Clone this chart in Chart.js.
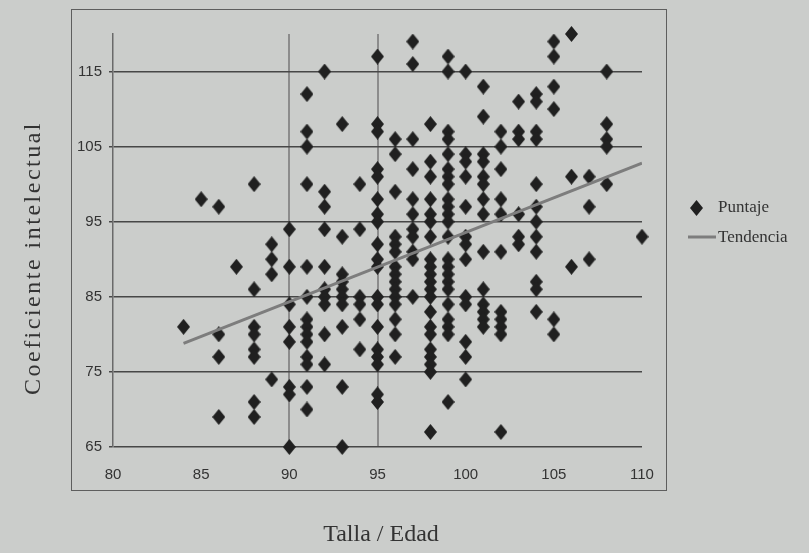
<!DOCTYPE html>
<html>
<head>
<meta charset="utf-8">
<script src="https://cdn.jsdelivr.net/npm/chart.js@4/dist/chart.umd.min.js"></script>
<style>
  html, body { margin: 0; padding: 0; background: #cbcdcb; }
  #wrap { width: 809px; height: 553px; }
</style>
</head>
<body>
<div id="wrap"><canvas id="chart" width="809" height="553"></canvas></div>
<script>
// Talla / Edad (x) and Coeficiente intelectual (y), one entry per child, grouped by x
const tallaEdad = [
  84,
  85,
  86, 86, 86, 86,
  87,
  88, 88, 88, 88, 88, 88, 88, 88,
  89, 89, 89, 89,
  90, 90, 90, 90, 90, 90, 90, 90,
  91, 91, 91, 91, 91, 91, 91, 91, 91, 91, 91, 91, 91, 91,
  92, 92, 92, 92, 92, 92, 92, 92, 92, 92,
  93, 93, 93, 93, 93, 93, 93, 93, 93, 93,
  94, 94, 94, 94, 94, 94,
  95, 95, 95, 95, 95, 95, 95, 95, 95, 95, 95, 95, 95, 95, 95, 95, 95, 95, 95,
  96, 96, 96, 96, 96, 96, 96, 96, 96, 96, 96, 96, 96, 96, 96,
  97, 97, 97, 97, 97, 97, 97, 97, 97, 97, 97,
  98, 98, 98, 98, 98, 98, 98, 98, 98, 98, 98, 98, 98, 98, 98, 98, 98, 98, 98, 98, 98,
  99, 99, 99, 99, 99, 99, 99, 99, 99, 99, 99, 99, 99, 99, 99, 99, 99, 99, 99, 99, 99, 99, 99,
  100, 100, 100, 100, 100, 100, 100, 100, 100, 100, 100, 100, 100,
  101, 101, 101, 101, 101, 101, 101, 101, 101, 101, 101, 101, 101, 101,
  102, 102, 102, 102, 102, 102, 102, 102, 102, 102, 102,
  103, 103, 103, 103, 103, 103,
  104, 104, 104, 104, 104, 104, 104, 104, 104, 104, 104, 104,
  105, 105, 105, 105, 105, 105,
  106, 106, 106,
  107, 107, 107,
  108, 108, 108, 108, 108,
  110
];
const coeficiente = [
  81,
  98,
  97, 80, 77, 69,
  89,
  100, 86, 81, 80, 78, 77, 71, 69,
  92, 90, 88, 74,
  94, 89, 84, 81, 79, 73, 72, 65,
  112, 107, 105, 100, 89, 85, 82, 81, 80, 79, 77, 76, 73, 70,
  115, 99, 97, 94, 89, 86, 85, 84, 80, 76,
  108, 93, 88, 87, 86, 85, 84, 81, 73, 65,
  100, 94, 85, 84, 82, 78,
  117, 108, 107, 102, 101, 98, 96, 95, 92, 90, 89, 85, 84, 81, 78, 77, 76, 72, 71,
  106, 104, 99, 93, 92, 91, 89, 88, 87, 86, 85, 84, 82, 80, 77,
  119, 116, 106, 102, 98, 96, 94, 93, 91, 90, 85,
  108, 103, 101, 98, 96, 95, 93, 90, 89, 88, 87, 86, 85, 83, 81, 80, 78, 77, 76, 75, 67,
  117, 115, 107, 106, 104, 102, 101, 100, 98, 97, 96, 95, 93, 90, 89, 88, 87, 86, 84, 82, 81, 80, 71,
  115, 104, 103, 101, 97, 93, 92, 90, 85, 84, 79, 77, 74,
  113, 109, 104, 103, 101, 100, 98, 96, 91, 86, 84, 83, 82, 81,
  107, 105, 102, 98, 96, 91, 83, 82, 81, 80, 67,
  111, 107, 106, 96, 93, 92,
  112, 111, 107, 106, 100, 97, 95, 93, 91, 87, 86, 83,
  119, 117, 113, 110, 82, 80,
  120, 101, 89,
  101, 97, 90,
  115, 108, 106, 105, 100,
  93
];

// Linear trend, end points
const trendX = [84, 110];
const trendY = [78.8, 102.8];

// Axis ticks and the two vertical reference lines
const xTicks = [80, 85, 90, 95, 100, 105, 110];
const yTicks = [65, 75, 85, 95, 105, 115];
const refLines = [90, 95];

const seriesNames = ['Puntaje', 'Tendencia'];
const xTitle = 'Talla / Edad';
const yTitle = 'Coeficiente intelectual';

const BG = '#cbcdcb';
const INK = '#333333';
const SERIF = '"Liberation Serif", "Times New Roman", serif';
const SANS = '"Liberation Sans", Arial, sans-serif';

// Diamond marker sprite (slightly taller than wide)
function diamondSprite(w, h, color) {
  const c = document.createElement('canvas');
  c.width = w; c.height = h;
  const g = c.getContext('2d');
  g.fillStyle = color;
  g.beginPath();
  g.moveTo(w / 2, 0);
  g.lineTo(w, h / 2);
  g.lineTo(w / 2, h);
  g.lineTo(0, h / 2);
  g.closePath();
  g.fill();
  return c;
}
const diamond = diamondSprite(13, 16, '#202020');

const points = tallaEdad.map((x, i) => ({ x: x, y: coeficiente[i] }));
const trend = trendX.map((x, i) => ({ x: x, y: trendY[i] }));

// Background, outer frame, axis titles and legend
const decorations = {
  id: 'decorations',
  beforeDraw(chart) {
    const ctx = chart.ctx;
    ctx.save();
    ctx.fillStyle = BG;
    ctx.fillRect(0, 0, chart.width, chart.height);
    ctx.restore();
  },
  afterDraw(chart) {
    const ctx = chart.ctx;
    ctx.save();
    // outer frame
    ctx.strokeStyle = '#5e5e5e';
    ctx.lineWidth = 1;
    ctx.strokeRect(71.5, 9.5, 595, 481);

    // axis titles
    ctx.fillStyle = INK;
    ctx.font = '24px ' + SERIF;
    ctx.textAlign = 'center';
    ctx.textBaseline = 'middle';
    ctx.fillText(xTitle, 381, 535);
    ctx.save();
    ctx.translate(34, 258);
    ctx.rotate(-Math.PI / 2);
    ctx.letterSpacing = '2.5px';
    ctx.fillText(yTitle, 0, 0);
    ctx.restore();

    // legend
    ctx.drawImage(diamond, 696 - 6, 208 - 8);
    ctx.strokeStyle = '#7d7d7d';
    ctx.lineWidth = 3;
    ctx.beginPath();
    ctx.moveTo(688, 237);
    ctx.lineTo(716, 237);
    ctx.stroke();
    ctx.font = '17px ' + SERIF;
    ctx.textAlign = 'left';
    ctx.fillText(seriesNames[0], 718, 208);
    ctx.fillText(seriesNames[1], 718, 238);
    ctx.restore();
  }
};

new Chart(document.getElementById('chart'), {
  type: 'scatter',
  data: {
    datasets: [
      {
        label: seriesNames[1],
        type: 'line',
        data: trend,
        order: 0,
        borderColor: '#7d7d7d',
        borderWidth: 3,
        pointRadius: 0,
        fill: false
      },
      {
        label: seriesNames[0],
        data: points,
        order: 1,
        clip: false,
        pointStyle: diamond,
        pointRadius: 7,
        pointHoverRadius: 7,
        backgroundColor: '#202020',
        borderColor: '#202020'
      }
    ]
  },
  options: {
    responsive: false,
    animation: false,
    devicePixelRatio: 1,
    layout: { padding: { left: 0, right: 167, top: 34, bottom: 0 } },
    plugins: {
      legend: { display: false },
      tooltip: { enabled: false }
    },
    scales: {
      x: {
        type: 'linear',
        min: 80,
        max: 110,
        afterBuildTicks: s => { s.ticks = xTicks.map(v => ({ value: v })); },
        afterFit: s => { s.height = 106; },
        grid: {
          color: c => (c.tick && refLines.includes(c.tick.value)) ? '#8c8c8c' : 'rgba(0,0,0,0)',
          lineWidth: 2,
          drawTicks: false
        },
        border: { display: false },
        ticks: {
          padding: 19,
          color: INK,
          font: { family: SANS, size: 15 }
        }
      },
      y: {
        type: 'linear',
        min: 65,
        max: 120,
        afterBuildTicks: s => { s.ticks = yTicks.map(v => ({ value: v })); },
        afterFit: s => { s.width = 113; },
        grid: {
          color: '#474747',
          lineWidth: 1.5,
          drawTicks: true,
          tickLength: 4
        },
        border: { display: true, color: '#6a6a6a', width: 1.5 },
        ticks: {
          padding: 7,
          color: INK,
          font: { family: SANS, size: 15 }
        }
      }
    }
  },
  plugins: [decorations]
});
</script>
</body>
</html>
